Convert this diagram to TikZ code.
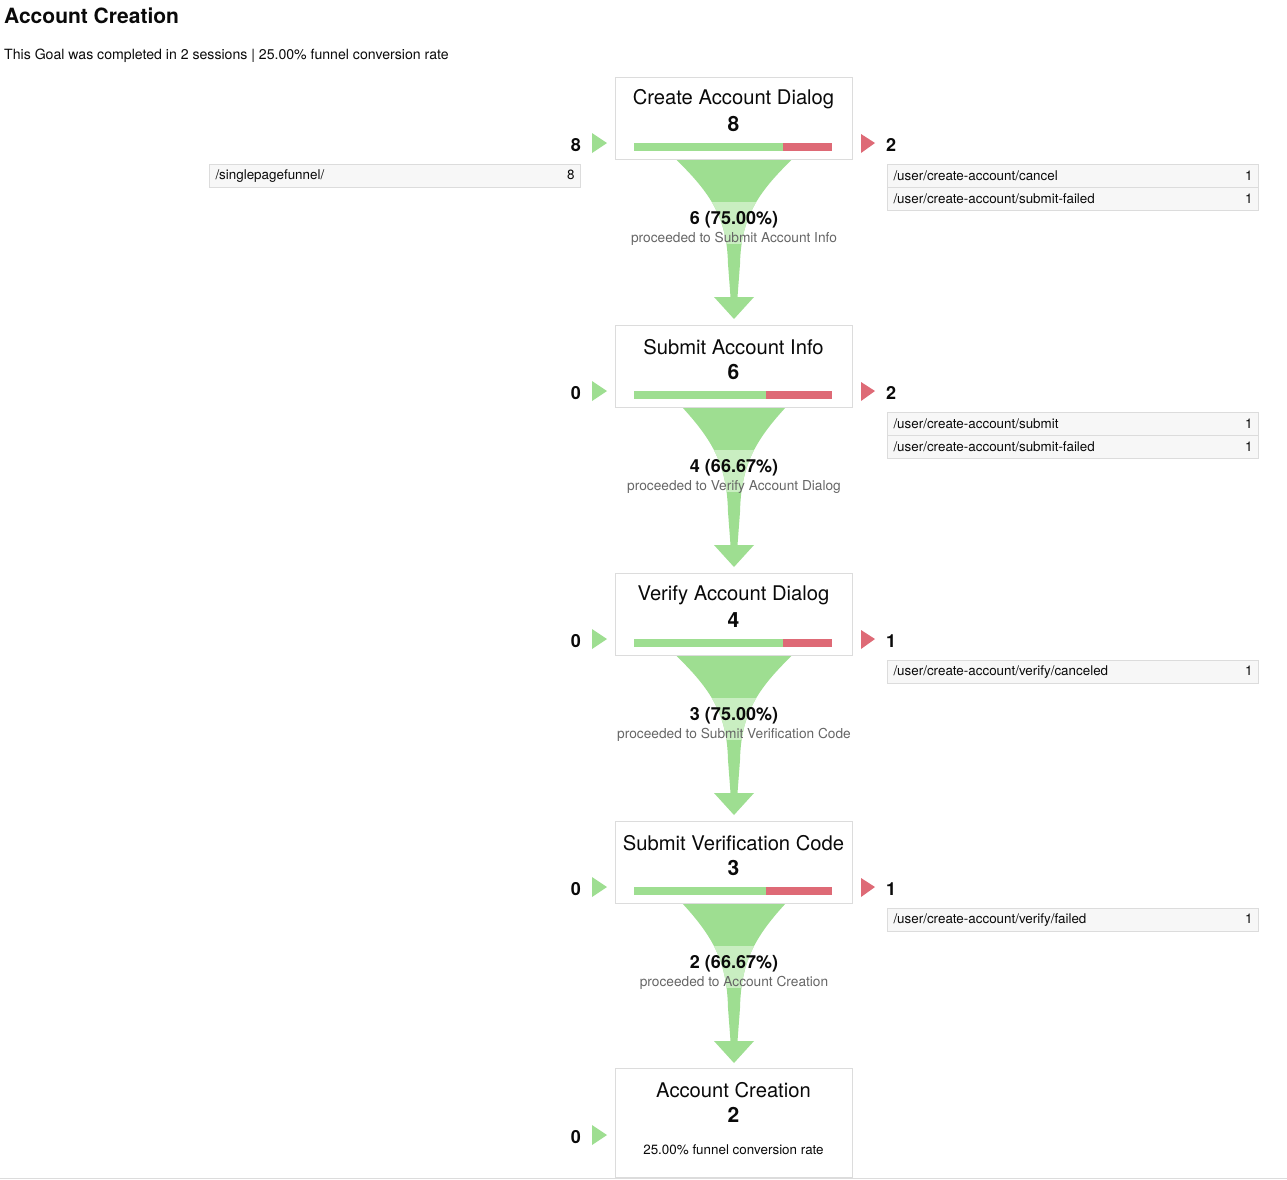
\documentclass[tikz,border=0pt]{standalone}
\usepackage{fontspec}
\setmainfont{TeX Gyre Heros}
\usetikzlibrary{calc}

\definecolor{fgreen}{HTML}{9EDE91}
\definecolor{lgreen}{HTML}{C9EEC1}
\definecolor{fred}{HTML}{DE6A76}
\definecolor{borderc}{HTML}{DCDCDC}
\definecolor{rowfill}{HTML}{F7F7F7}
\definecolor{grayt}{HTML}{666666}
\definecolor{inkc}{HTML}{0A0A0A}

\newcommand\fsz[1]{\fontsize{#1}{#1}\selectfont}
% funnel outline, drawn in a scope whose origin is the bottom centre of a step box
\newcommand\funnelshape[1]{(-#1,0) .. controls ({-0.38*#1},35) and (-7,60) .. (-6,105) -- (-3.5,138) -- (-20,138) -- (0,160) -- (20,138) -- (3.5,138) -- (6,105) .. controls (7,60) and ({0.38*#1},35) .. (#1,0) -- cycle}

\tikzset{
  stepbox/.style={draw=borderc, fill=white, line width=1pt, minimum width=237, minimum height=82, inner sep=0},
  ttl/.style={font=\fsz{20.2}, inner sep=0, text=inkc},
  cnt/.style={font=\fsz{21}\bfseries, inner sep=0, text=inkc},
  side/.style={font=\fsz{18}\bfseries, inner sep=0, text=inkc},
  pct/.style={font=\fsz{18}\bfseries, inner sep=0, text=inkc},
  prc/.style={font=\fsz{13.7}, text=grayt, inner sep=0},
  rowbox/.style={draw=borderc, fill=rowfill, line width=1pt, minimum height=23, text width=359, inner xsep=6, inner ysep=0, anchor=north west, font=\fsz{13.4}, align=left, text=inkc},
}

\begin{document}
\begin{tikzpicture}[x=1pt, y=-1pt]
\useasboundingbox (0,0) rectangle (1287,1179);

% header
\node[anchor=west, font=\fsz{21}\bfseries, inner sep=0, text=inkc] (head) at (4,16) {Account Creation};
\node[anchor=west, font=\fsz{14.1}, inner sep=0, text=inkc] (sub) at (4,55.5) {This Goal was completed in 2 sessions | 25.00\% funnel conversion rate};

% funnel steps with their drop-off funnels
\foreach \i/\ttl/\cnt/\inn/\out/\fr/\prc/\nxt in {
  1/Create Account Dialog/8/8/2/0.75/6 (75.00\%)/Submit Account Info,
  2/Submit Account Info/6/0/2/0.6667/4 (66.67\%)/Verify Account Dialog,
  3/Verify Account Dialog/4/0/1/0.75/3 (75.00\%)/Submit Verification Code,
  4/Submit Verification Code/3/0/1/0.6667/2 (66.67\%)/Account Creation}
{
  \pgfmathsetmacro\ytop{77+248*(\i-1)}
  \pgfmathsetmacro\ybot{\ytop+82}
  \pgfmathsetmacro\fw{78*\fr}
  % funnel to the next step
  \begin{scope}[shift={(734,\ybot)}]
    \fill[fgreen] \funnelshape{\fw};
    \begin{scope}
      \clip \funnelshape{\fw};
      \fill[lgreen] (-70,43) rectangle (70,85);
    \end{scope}
  \end{scope}
  \node[stepbox] (s\i) at (733.5,\ytop+41) {};
  \node[ttl] (t\i) at (733.5,\ytop+22) {\ttl};
  \node[cnt] (c\i) at (733.5,\ytop+47) {\cnt};
  % share bar
  \fill[fgreen] (634,\ytop+66) rectangle ({634+198*\fr},\ytop+74);
  \fill[fred] ({634+198*\fr},\ytop+66) rectangle (832,\ytop+74);
  % entries and exits
  \fill[fgreen] (592,\ytop+56) -- (607,\ytop+66) -- (592,\ytop+76) -- cycle;
  \node[side, anchor=east] (in\i) at (581,\ytop+68) {\inn};
  \fill[fred] (861,\ytop+57) -- (875,\ytop+66) -- (861,\ytop+76) -- cycle;
  \node[side, anchor=west] (out\i) at (886,\ytop+68) {\out};
  % proceeded label
  \node[pct] (p\i) at (734,\ybot+61) {\prc};
  \node[prc] (q\i) at (734,\ybot+79.5) {proceeded to \nxt};
}

% final step
\node[stepbox, minimum height=109] (s5) at (733.5,1122.5) {};
\node[ttl] (t5) at (733.5,1090) {Account Creation};
\node[cnt] (c5) at (733.5,1115) {2};
\node[font=\fsz{13.4}, inner sep=0, text=inkc] (conv) at (733.5,1150) {25.00\% funnel conversion rate};
\fill[fgreen] (592,1125) -- (607,1135) -- (592,1145) -- cycle;
\node[side, anchor=east] (in5) at (581,1137) {0};

% entrance and exit page tables
\node[rowbox] (e1) at (209,164) {/singlepagefunnel/\hfill 8};
\node[rowbox] (x1a) at (887,164) {/user/create-account/cancel\hfill 1};
\node[rowbox] (x1b) at (887,187) {/user/create-account/submit-failed\hfill 1};
\node[rowbox] (x2a) at (887,412) {/user/create-account/submit\hfill 1};
\node[rowbox] (x2b) at (887,435) {/user/create-account/submit-failed\hfill 1};
\node[rowbox] (x3a) at (887,660) {/user/create-account/verify/canceled\hfill 1};
\node[rowbox] (x4a) at (887,908) {/user/create-account/verify/failed\hfill 1};

% bottom rule
\draw[borderc, line width=1pt] (0,1178.5) -- (1287,1178.5);
\end{tikzpicture}
\end{document}
